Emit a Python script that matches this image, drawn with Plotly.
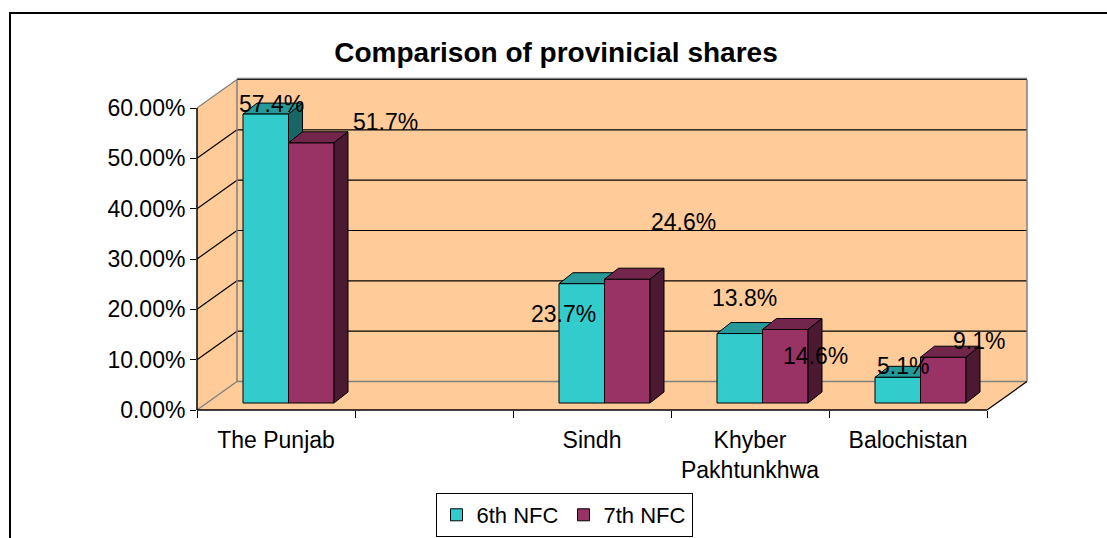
import plotly.graph_objects as go

# ---------------- data ----------------
CATEGORIES = ["The Punjab", " ", "Sindh", "Khyber<br>Pakhtunkhwa", "Balochistan"]
NFC6 = [57.4, None, 23.7, 13.8, 5.1]
NFC7 = [51.7, None, 24.6, 14.6, 9.1]
SERIES_NAMES = ["6th NFC", "7th NFC"]
Y_TICKS = [0, 10, 20, 30, 40, 50, 60]
TITLE = "Comparison of provinicial shares"

# ---------------- styles / geometry (pixels) ----------------
W, H = 1107, 538
L, R, T, B = 197, 1047, 70, 410          # plot area in px
PW, PH = R - L, B - T
CAT_PX = 158.0                            # px per category
K = 302.0 / 60.0                          # px per percentage point
WALL_DX, WALL_DY = 40.0, 28.5             # depth of the 3D box
BAR_SHIFT_X, BAR_SHIFT_Y = 12.5, 7.0      # bar plane offset from the front plane
BAR_DX, BAR_DY = 14.0, 11.0               # bar depth
BARGAP = 0.424
PEACH = "#FFCC99"
GREY = "#808080"
FONT = "Liberation Sans, Arial, sans-serif"
FS = 23
COLORS = ["#33CCCC", "#993366"]
TOPS = ["#269999", "#73264C"]
SIDES = ["#196666", "#4C1933"]
# label offsets (px) relative to the top-centre of each bar's front face
LABEL_SHIFT = [
    [(6, 10), None, (-18, -30), (5, 36), (5, 11)],
    [(74, 21), None, (56, 57), (30, -26), (36, 16)],
]

def pxx(px):
    return (px - L) / PW

def pxy(py):
    return (B - py) / PH

def vy(v):  # value -> px on front plane
    return B - v * K

ncat = len(CATEGORIES)
front_right = L + ncat * CAT_PX

fig = go.Figure()

# invisible trace to establish categories on the main x axis
fig.add_trace(go.Scatter(x=CATEGORIES, y=[0] * ncat, mode="markers",
                         marker=dict(opacity=0), showlegend=False, hoverinfo="skip"))

for k, (name, vals) in enumerate(zip(SERIES_NAMES, [NFC6, NFC7])):
    fig.add_trace(go.Bar(
        x=CATEGORIES, y=vals, name=name, xaxis="x2", yaxis="y2",
        marker=dict(color=COLORS[k], line=dict(color="black", width=1)),
        hoverinfo="skip",
    ))

shapes = []

def path(points):
    return "M " + " L ".join(f"{x:.5f},{y:.5f}" for x, y in points) + " Z"

def ppath(points_px):
    return path([(pxx(x), pxy(y)) for x, y in points_px])

# walls and floor
top_v = Y_TICKS[-1]
shapes.append(dict(type="path", xref="paper", yref="paper", layer="below",
                   path=ppath([(L, B), (L + WALL_DX, B - WALL_DY), (front_right + WALL_DX, B - WALL_DY), (front_right, B)]),
                   fillcolor=PEACH, line=dict(width=0)))
shapes.append(dict(type="path", xref="paper", yref="paper", layer="below",
                   path=ppath([(L, B), (L, vy(top_v)), (L + WALL_DX, vy(top_v) - WALL_DY), (L + WALL_DX, B - WALL_DY)]),
                   fillcolor=PEACH, line=dict(width=0)))
shapes.append(dict(type="rect", xref="paper", yref="paper", layer="below",
                   x0=pxx(L + WALL_DX), x1=pxx(front_right + WALL_DX),
                   y0=pxy(B - WALL_DY), y1=pxy(vy(top_v) - WALL_DY),
                   fillcolor=PEACH, line=dict(width=0)))

def seg(p0, p1, color, width=1.2, layer="below"):
    shapes.append(dict(type="line", xref="paper", yref="paper", layer=layer,
                       x0=pxx(p0[0]), y0=pxy(p0[1]), x1=pxx(p1[0]), y1=pxy(p1[1]),
                       line=dict(color=color, width=width)))

# gridlines
for v in Y_TICKS:
    yf = vy(v)
    yb = yf - WALL_DY
    if v == 0:
        seg((L, yf), (L + WALL_DX, yb), GREY, 1.5)
        seg((L + WALL_DX, yb), (front_right + WALL_DX, yb), GREY, 1.5)
        continue
    seg((L + WALL_DX, yb), (front_right + WALL_DX, yb), "black", 1.2)
    seg((L, yf), (L + WALL_DX, yb), GREY if v == top_v else "black", 1.2)
# back wall edges
seg((L + WALL_DX, vy(top_v) - WALL_DY - 1), (front_right + WALL_DX, vy(top_v) - WALL_DY - 1), GREY, 1.5)
seg((L + WALL_DX, vy(top_v) - WALL_DY), (L + WALL_DX, B - WALL_DY), GREY, 1.5)
seg((front_right + WALL_DX, vy(top_v) - WALL_DY), (front_right + WALL_DX, B - WALL_DY), GREY, 1.5)
# front edges / axis lines
seg((front_right, B), (front_right + WALL_DX, B - WALL_DY), "black", 1.2)
seg((L, B), (front_right, B), "black", 1.5)
seg((L, vy(top_v)), (L, B), "black", 1.5)

# 3D faces of bars, expressed on the main axes (bar plane is shifted)
half = (1 - BARGAP) / 2
dx = BAR_DX / CAT_PX
dy = BAR_DY / K
sx_units = BAR_SHIFT_X / CAT_PX
sy_units = BAR_SHIFT_Y / K
for k, vals in enumerate([NFC6, NFC7]):
    for i, v in enumerate(vals):
        if v is None:
            continue
        xl = (i - half if k == 0 else i) + sx_units
        xr = xl + half
        b0 = 0 + sy_units
        top = v + sy_units
        layer = "between" if k == 0 else "above"
        shapes.append(dict(type="path", xref="x", yref="y", layer=layer,
                           path=path([(xl, top), (xr, top), (xr + dx, top + dy), (xl + dx, top + dy)]),
                           fillcolor=TOPS[k], line=dict(color="black", width=1)))
        shapes.append(dict(type="path", xref="x", yref="y", layer=layer,
                           path=path([(xr, b0), (xr + dx, b0 + dy), (xr + dx, top + dy), (xr, top)]),
                           fillcolor=SIDES[k], line=dict(color="black", width=1)))

# outer chart border
shapes.append(dict(type="rect", xref="paper", yref="paper", layer="above",
                   x0=pxx(10), y0=pxy(H + 10), x1=pxx(W + 10), y1=pxy(13),
                   fillcolor="rgba(0,0,0,0)", line=dict(color="black", width=2)))

# data labels
annotations = []
for k, vals in enumerate([NFC6, NFC7]):
    for i, v in enumerate(vals):
        if v is None:
            continue
        cx = i - half / 2 if k == 0 else i + half / 2
        sx, sy = LABEL_SHIFT[k][i]
        annotations.append(dict(x=cx, y=v, xref="x2", yref="y2", text=f"{v:.1f}%",
                                showarrow=False, xanchor="center", yanchor="middle",
                                xshift=sx, yshift=sy, font=dict(size=FS, color="black", family=FONT)))

x_range = [-0.5, -0.5 + PW / CAT_PX]
y_range = [0, PH / K]

fig.update_layout(
    width=W, height=H,
    margin=dict(l=L, r=W - R, t=T, b=H - B, autoexpand=False),
    paper_bgcolor="white", plot_bgcolor="rgba(0,0,0,0)",
    font=dict(family=FONT, size=FS, color="black"),
    title=dict(text=f"<b>{TITLE}</b>", x=556 / W, y=1 - 52 / H, xref="container", yref="container",
               xanchor="center", yanchor="middle", font=dict(size=28, family=FONT, color="black")),
    barmode="group", bargap=BARGAP, bargroupgap=0,
    xaxis=dict(type="category", categoryorder="array", categoryarray=CATEGORIES,
               range=x_range, tickson="boundaries", ticks="outside", ticklen=7, tickcolor="black",
               ticklabelstandoff=14,
               showgrid=False, showline=False, zeroline=False, tickfont=dict(size=FS), fixedrange=True),
    yaxis=dict(range=y_range, tickmode="array", tickvals=Y_TICKS,
               ticktext=[f"{v:.2f}%" for v in Y_TICKS],
               ticks="outside", ticklen=6, tickcolor="black", showgrid=False, showline=False,
               zeroline=False, tickfont=dict(size=FS), fixedrange=True),
    xaxis2=dict(type="category", categoryorder="array", categoryarray=CATEGORIES,
                overlaying="x", visible=False,
                range=[x_range[0] - sx_units, x_range[1] - sx_units]),
    yaxis2=dict(overlaying="y", visible=False,
                range=[y_range[0] - sy_units, y_range[1] - sy_units]),
    legend=dict(orientation="h", x=pxx(564), y=pxy(493), xanchor="center", yanchor="top",
                bordercolor="black", borderwidth=1, bgcolor="white",
                font=dict(size=22, family=FONT), itemwidth=30),
    shapes=shapes, annotations=annotations,
)

fig.write_html("out.html", config={"displayModeBar": False},
               post_script="document.body.style.margin='0';")
